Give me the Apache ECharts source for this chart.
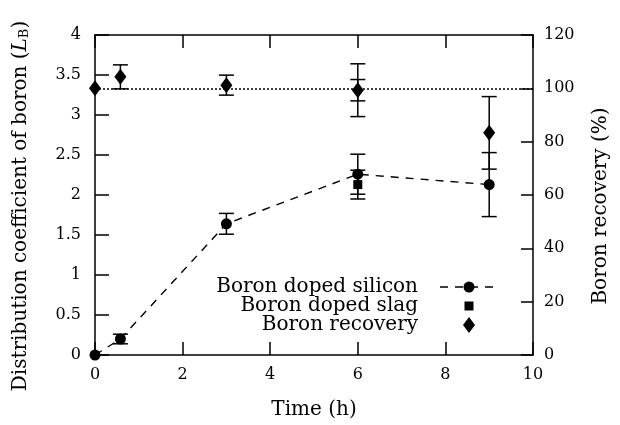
<!DOCTYPE html>
<html><head><meta charset="utf-8">
<script src="https://cdn.jsdelivr.net/npm/echarts@6/dist/echarts.min.js"></script>
<style>html,body{margin:0;padding:0;background:#fff}#c{width:620px;height:425px}</style>
</head><body><div id="c"></div>
<script>
// Data (null = not visible in the figure)
var times = [0, 0.58, 3, 6, 9];
var siliconLB = [0, 0.2, 1.64, 2.26, 2.13];
var siliconErr = [0, 0.06, 0.13, 0.25, 0.4];
var slagLB = [null, null, null, 2.13, null];
var slagErr = [0, 0, 0, 0.18, 0];
var recovery = [100, 104.3, 101.2, 99.3, 83.3];
var recoveryErr = [0, 4.5, 3.75, 9.9, 13.6];
var recoveryErrInner = [0, 0, 0, 4.0, 0];
var legendNames = ['Boron doped silicon', 'Boron doped slag', 'Boron recovery'];

var FONT = 'DejaVu Serif';
var TF = 20, LF = 16;
function pts(ys){
  var out = [];
  times.forEach(function(t,i){ if (ys[i] !== null) out.push([t, ys[i]]); });
  return out;
}
function errData(ys, es){
  var out = [];
  times.forEach(function(t,i){ if (ys[i] !== null && es[i] > 0) out.push([t, ys[i]-es[i], ys[i]+es[i]]); });
  return out;
}
function errSeries(ys, es, yIdx){
  return {
    type: 'custom', yAxisIndex: yIdx, z: 3, silent: true,
    data: errData(ys, es),
    renderItem: function(params, api){
      var lo = api.coord([api.value(0), api.value(1)]);
      var hi = api.coord([api.value(0), api.value(2)]);
      var w = 7.5;
      var st = {stroke: '#000', lineWidth: 1.5};
      return {type: 'group', children: [
        {type: 'line', shape: {x1: lo[0], y1: lo[1], x2: hi[0], y2: hi[1]}, style: st},
        {type: 'line', shape: {x1: lo[0]-w, y1: lo[1], x2: lo[0]+w, y2: lo[1]}, style: st},
        {type: 'line', shape: {x1: hi[0]-w, y1: hi[1], x2: hi[0]+w, y2: hi[1]}, style: st}
      ]};
    }
  };
}
var axisLine = {show: true, onZero: false, lineStyle: {color: '#000', width: 1.5}};
var chart = echarts.init(document.getElementById('c'));
var lx = 418, sx = 469;
var lf = TF + 'px "' + FONT + '"';
chart.setOption({
  animation: false,
  backgroundColor: '#fff',
  textStyle: {fontFamily: FONT, color: '#000'},
  grid: {left: 95, right: 87, top: 35, bottom: 70},
  xAxis: [{
    type: 'value', min: 0, max: 10, interval: 2, position: 'bottom',
    name: 'Time (h)', nameLocation: 'middle', nameGap: 45,
    nameTextStyle: {fontFamily: FONT, fontSize: TF, color: '#000'},
    axisLine: axisLine, axisTick: {inside: true, length: 13, lineStyle: {color: '#000', width: 1.5}},
    axisLabel: {fontFamily: FONT, fontSize: LF, color: '#000', margin: 12},
    splitLine: {show: false}
  }, {
    type: 'value', min: 0, max: 10, interval: 2, position: 'top',
    axisLine: axisLine, axisTick: {inside: true, length: 13, lineStyle: {color: '#000', width: 1.5}},
    axisLabel: {show: false}, splitLine: {show: false}
  }],
  yAxis: [{
    type: 'value', min: 0, max: 4, interval: 0.5, position: 'left',
    name: '{n|Distribution coefficient of boron (}{i|L}{s|B}{n|)}',
    nameLocation: 'middle', nameGap: 64, nameRotate: 90,
    nameTextStyle: {fontFamily: FONT, fontSize: TF, color: '#000', padding: [0, 22, 0, 0],
      rich: {n: {fontFamily: FONT, fontSize: TF}, i: {fontFamily: FONT, fontSize: TF, fontStyle: 'italic'}, s: {fontFamily: FONT, fontSize: 13, verticalAlign: 'bottom', padding: [8,0,0,0]}}},
    axisLine: axisLine, axisTick: {inside: true, length: 14, lineStyle: {color: '#000', width: 1.5}},
    axisLabel: {fontFamily: FONT, fontSize: LF, color: '#000', margin: 14},
    splitLine: {show: false}
  }, {
    type: 'value', min: 0, max: 120, interval: 20, position: 'right',
    name: 'Boron recovery (%)', nameLocation: 'middle', nameGap: 58, nameRotate: 90,
    nameTextStyle: {fontFamily: FONT, fontSize: TF, color: '#000', padding: [0, 22, 0, 0]},
    axisLine: axisLine, axisTick: {show: true, inside: true, length: 12, lineStyle: {color: '#000', width: 1.5}},
    axisLabel: {fontFamily: FONT, fontSize: LF, color: '#000', margin: 11},
    splitLine: {show: false}
  }],
  series: [
    errSeries(siliconLB, siliconErr, 0),
    errSeries(slagLB, slagErr, 0),
    errSeries(recovery, recoveryErr, 1),
    errSeries(recovery, recoveryErrInner, 1),
    {
      name: legendNames[0], type: 'line', yAxisIndex: 0, z: 4,
      data: pts(siliconLB), symbol: 'circle', symbolSize: 11,
      itemStyle: {color: '#000', opacity: 1},
      lineStyle: {color: '#000', width: 1.4, type: [8, 7]}
    },
    {
      name: legendNames[1], type: 'scatter', yAxisIndex: 0, z: 3,
      data: pts(slagLB), symbol: 'rect', symbolSize: 9,
      itemStyle: {color: '#000', opacity: 1}
    },
    {
      name: legendNames[2], type: 'scatter', yAxisIndex: 1, z: 5,
      data: pts(recovery), symbol: 'diamond', symbolSize: [12, 16],
      itemStyle: {color: '#000', opacity: 1},
      markLine: {silent: true, symbol: 'none', label: {show: false},
        lineStyle: {color: '#000', type: [2, 2], width: 1.5},
        data: [{yAxis: 100}]}
    }
  ],
  graphic: [
    {type: 'text', x: lx, y: 287, style: {text: legendNames[0], font: lf, fill: '#000', align: 'right', verticalAlign: 'middle'}},
    {type: 'text', x: lx, y: 306, style: {text: legendNames[1], font: lf, fill: '#000', align: 'right', verticalAlign: 'middle'}},
    {type: 'text', x: lx, y: 325, style: {text: legendNames[2], font: lf, fill: '#000', align: 'right', verticalAlign: 'middle'}},
    {type: 'line', shape: {x1: 440, y1: 287, x2: 498, y2: 287}, style: {stroke: '#000', lineWidth: 1.4, lineDash: [8, 7]}},
    {type: 'circle', shape: {cx: sx, cy: 287, r: 5.5}, style: {fill: '#000'}},
    {type: 'rect', shape: {x: sx - 4.5, y: 306 - 4.5, width: 9, height: 9}, style: {fill: '#000'}},
    {type: 'polygon', shape: {points: [[sx, 325 - 8], [sx + 6, 325], [sx, 325 + 8], [sx - 6, 325]]}, style: {fill: '#000'}}
  ]
});
</script></body></html>
